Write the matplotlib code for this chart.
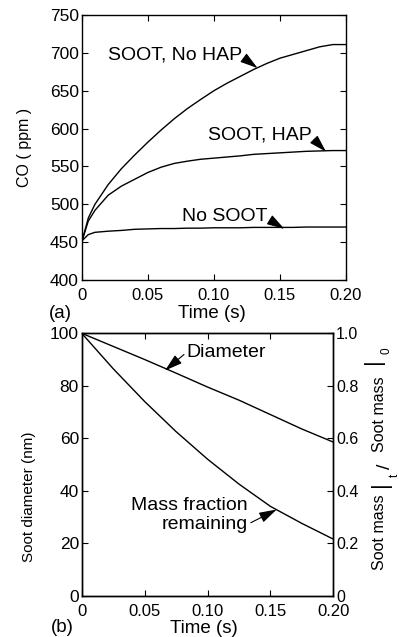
import matplotlib
matplotlib.use("Agg")
import matplotlib.pyplot as plt

plt.rcParams['font.family'] = ['Liberation Sans', 'DejaVu Sans']

# ---------- panel (a) data ----------
t_co = [0, 0.0003, 0.005, 0.01, 0.02, 0.03, 0.04, 0.05, 0.06, 0.07, 0.08, 0.09, 0.10,
        0.11, 0.12, 0.13, 0.14, 0.15, 0.16, 0.17, 0.18, 0.19, 0.20]
co_soot_nohap = [400, 452, 482, 500, 526, 547, 565, 582, 598, 613, 626.5, 638.5, 650,
                 660, 669, 678, 686, 693, 698, 703, 708, 711, 711]
co_soot_hap = [400, 452, 478, 492, 512, 524, 533, 542, 549, 554, 557, 559.5, 561,
               562.5, 564, 566, 567, 568, 569, 570, 570.5, 571, 571]
co_nosoot = [400, 452, 460, 463, 464.5, 465.5, 467, 467.5, 468, 468, 468.5, 468.5, 469,
             469, 469, 469.5, 469.5, 469.5, 469.5, 470, 470, 470, 470]

co_ticks = [400, 450, 500, 550, 600, 650, 700, 750]
time_ticks = [0, 0.05, 0.10, 0.15, 0.20]
time_labels = ['0', '0.05', '0.10', '0.15', '0.20']

# ---------- panel (b) data ----------
t_soot = [0, 0.025, 0.05, 0.075, 0.10, 0.125, 0.15, 0.175, 0.20]
diameter_nm = [100, 95, 90, 84.8, 79.5, 74.5, 69, 63.5, 58.5]
mass_fraction = [1.0, 0.865, 0.74, 0.625, 0.52, 0.425, 0.34, 0.275, 0.215]

diam_ticks = [0, 20, 40, 60, 80, 100]
frac_ticks = [0, 0.2, 0.4, 0.6, 0.8, 1.0]
frac_labels = ['0', '0.2', '0.4', '0.6', '0.8', '1.0']

W, H = 399, 637
fig = plt.figure(figsize=(W / 100, H / 100), dpi=100)
ax1 = fig.add_axes([0.2048, 0.5604, 0.6625, 0.4160])
ax2 = fig.add_axes([0.2048, 0.0651, 0.6306, 0.4117])
ax3 = ax2.twinx()

lw = 1.0
arrow_kw = dict(arrowstyle='-|>,head_length=0.6,head_width=0.18', mutation_scale=18,
                color='black', lw=0.8, shrinkA=0, shrinkB=0)

# ---- panel (a)
ax1.plot(t_co, co_soot_nohap, color='black', lw=lw)
ax1.plot(t_co, co_soot_hap, color='black', lw=lw)
ax1.plot(t_co, co_nosoot, color='black', lw=lw)
ax1.set_xlim(0, 0.2)
ax1.set_ylim(400, 750)
ax1.set_xticks(time_ticks)
ax1.set_xticklabels(time_labels)
ax1.set_yticks(co_ticks)
ax1.tick_params(direction='in', length=4, width=0.8, top=True, right=True)
ax1.tick_params(axis='x', labelsize=12, pad=5.5)
ax1.tick_params(axis='y', labelsize=12.5, pad=2)
ax1.set_xlabel('Time (s)', fontsize=13.5, va='center')
ax1.xaxis.set_label_coords(0.492, -0.1245)
ax1.set_ylabel('CO ( ppm )', fontsize=11.5, va='center')
ax1.yaxis.set_label_coords(-0.218, 0.5)
ax1.text(-0.082, -0.1245, '(a)', transform=ax1.transAxes, fontsize=13.5,
         ha='center', va='center')

ax1.annotate('SOOT, No HAP', xy=(0.133, 680), xytext=(0.1215, 697),
             ha='right', va='center', fontsize=14,
             arrowprops=dict(relpos=(1, 0.4), **arrow_kw))
ax1.annotate('SOOT, HAP', xy=(0.1848, 569.5), xytext=(0.1737, 591.5),
             ha='right', va='center', fontsize=14,
             arrowprops=dict(relpos=(1, 0.4), **arrow_kw))
ax1.annotate('No SOOT', xy=(0.1533, 467.5), xytext=(0.1405, 483.6),
             ha='right', va='center', fontsize=14,
             arrowprops=dict(relpos=(1, 0.4), **arrow_kw))

# ---- panel (b)
ax2.plot(t_soot, diameter_nm, color='black', lw=lw)
ax3.plot(t_soot, mass_fraction, color='black', lw=lw)
ax2.set_xlim(0, 0.2)
ax2.set_ylim(0, 100)
ax3.set_ylim(0, 1)
ax2.set_xticks(time_ticks)
ax2.set_xticklabels(time_labels)
ax2.set_yticks(diam_ticks)
ax3.set_yticks(frac_ticks)
ax3.set_yticklabels(frac_labels)
ax2.tick_params(direction='in', length=4, width=0.8, top=True, right=False)
ax2.tick_params(axis='x', labelsize=12, pad=6)
ax2.tick_params(axis='y', labelsize=12.5, pad=2)
ax3.tick_params(direction='in', length=4, width=0.8, labelsize=11.5, pad=2)
ax2.set_xlabel('Time (s)', fontsize=13.5, va='center')
ax2.xaxis.set_label_coords(0.486, -0.124)
ax2.set_ylabel('Soot diameter (nm)', fontsize=11, va='center')
ax2.yaxis.set_label_coords(-0.209, 0.377)
ax2.text(-0.078, -0.12, '(b)', transform=ax2.transAxes, fontsize=13.5,
         ha='center', va='center')

# right-hand label: Soot mass|_t / Soot mass|_0 (rotated, built from pieces)
right_label_parts = [
    ('Soot mass', 379.5, 532, 11.5),
    ('|', 380.5, 484, 16),
    ('t', 394.5, 475, 8.5),
    ('/', 385, 466, 14),
    ('Soot mass', 379.5, 414, 11.5),
    ('|', 373, 361, 16),
    ('0', 387, 351, 8.5),
]
for txt, px, py, fs in right_label_parts:
    fig.text(px / W, 1 - py / H, txt, rotation=90, fontsize=fs,
             ha='center', va='center')

ax2.annotate('Diameter', xy=(0.0662, 85.8), xytext=(0.0835, 92.8),
             ha='left', va='center', fontsize=14,
             arrowprops=dict(relpos=(0, 0.5), **arrow_kw))
ax2.annotate('Mass fraction\nremaining', xy=(0.155, 32.8), xytext=(0.1322, 30.7),
             ha='right', va='center', fontsize=14, multialignment='right',
             arrowprops=dict(relpos=(1, 0.25), **arrow_kw))

for a in (ax1, ax2, ax3):
    for s in a.spines.values():
        s.set_linewidth(1.0)

fig.savefig('out.png', dpi=100)
